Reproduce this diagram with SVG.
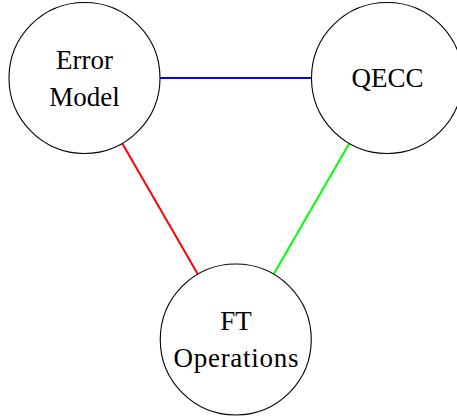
<svg xmlns="http://www.w3.org/2000/svg" width="457" height="416" viewBox="0 0 457 416">
  <style>
    .node { fill: #ffffff; stroke: #000000; stroke-width: 1.1; }
    .label { font-family: "Liberation Serif", "Times New Roman", serif; font-size: 27px; fill: #000000; text-anchor: middle; }
    .edge { stroke-width: 2; fill: none; }
  </style>
  <rect width="457" height="416" fill="#ffffff"/>
  <g id="connectors">
    <line class="edge" x1="160" y1="78" x2="311.5" y2="78" stroke="#0000ff"/>
    <line class="edge" x1="122.3" y1="143.4" x2="198" y2="274.6" stroke="#ff0000"/>
    <line class="edge" x1="349.3" y1="143.4" x2="273.5" y2="274.6" stroke="#00ff00"/>
  </g>
  <g id="error-model">
    <circle class="node" cx="84.5" cy="78" r="75.5"/>
    <text class="label" x="84.5" y="69">Error</text>
    <text class="label" x="84.5" y="106">Model</text>
  </g>
  <g id="qecc">
    <circle class="node" cx="387" cy="78" r="75.5"/>
    <text class="label" x="387.5" y="87">QECC</text>
  </g>
  <g id="ft-operations">
    <circle class="node" cx="235.75" cy="339.5" r="75.5"/>
    <text class="label" x="236" y="330">FT</text>
    <text class="label" x="236" y="367" textLength="125" lengthAdjust="spacing">Operations</text>
  </g>
</svg>
